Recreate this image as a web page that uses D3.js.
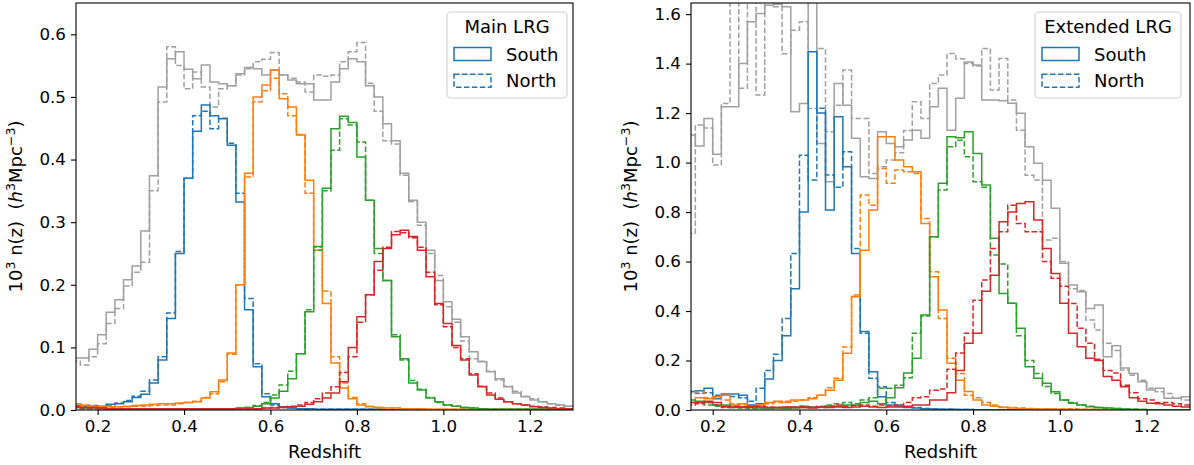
<!DOCTYPE html>
<html><head><meta charset="utf-8">
<script src="https://cdn.jsdelivr.net/npm/d3@7"></script>
<style>
body{margin:0;background:#fff;}
svg text{font-family:"DejaVu Sans",sans-serif;fill:#000;}
</style></head>
<body><svg id="c" width="1194" height="465"></svg>
<script>
// ---------- DATA ----------
const binEdges = [0.14,0.16,0.18,0.20,0.22,0.24,0.26,0.28,0.30,0.32,0.34,0.36,0.38,0.40,0.42,0.44,0.46,0.48,0.50,0.52,
0.54,0.56,0.58,0.60,0.62,0.64,0.66,0.68,0.70,0.72,0.74,0.76,0.78,0.80,0.82,0.84,0.86,0.88,0.90,0.92,
0.94,0.96,0.98,1.00,1.02,1.04,1.06,1.08,1.10,1.12,1.14,1.16,1.18,1.20,1.22,1.24,1.26,1.28];
const binEnd = 1.30;
const xTicks = [0.2,0.4,0.6,0.8,1.0,1.2];
const yTicksMain = [0.0,0.1,0.2,0.3,0.4,0.5,0.6];
const yTicksExt = [0.0,0.2,0.4,0.6,0.8,1.0,1.2,1.4,1.6];
const legendLabels = ["South","North"];

// Main LRG (left)
const mainAllS = [0.083,0.083,0.097,0.12,0.156,0.176,0.208,0.23,0.286,0.374,0.516,0.561,0.572,0.544,0.529,0.551,0.524,0.521,0.518,0.537,
0.547,0.545,0.535,0.543,0.535,0.527,0.521,0.521,0.495,0.495,0.524,0.545,0.561,0.556,0.518,0.5,0.457,0.43,0.378,0.335,
0.3,0.255,0.207,0.173,0.145,0.117,0.093,0.077,0.061,0.05,0.037,0.027,0.021,0.016,0.013,0.01,0.008,0.006];
const mainAllN = [0.078,0.072,0.085,0.106,0.138,0.162,0.198,0.22,0.236,0.35,0.492,0.58,0.55,0.513,0.54,0.516,0.484,0.513,0.518,0.535,
0.545,0.556,0.56,0.571,0.535,0.53,0.524,0.508,0.535,0.533,0.535,0.556,0.572,0.587,0.522,0.477,0.43,0.425,0.375,0.333,
0.295,0.25,0.215,0.165,0.14,0.11,0.082,0.078,0.062,0.048,0.038,0.03,0.022,0.018,0.013,0.01,0.008,0.006];
const mainBlueS = [0.007,0.006,0.006,0.006,0.009,0.01,0.013,0.02,0.025,0.043,0.08,0.146,0.25,0.37,0.445,0.487,0.47,0.465,0.423,0.332,
0.16,0.069,0.021,0.01,0.005,0.003,0.002,0.002,0.001,0.001,0.001,0.001,0.001,0.001,0.001,0.001,0,0,0,0,
0,0,0,0,0,0,0,0,0,0,0,0,0,0,0,0,0,0];
const mainBlueN = [0.008,0.006,0.007,0.005,0.008,0.011,0.015,0.022,0.03,0.048,0.085,0.155,0.253,0.37,0.47,0.477,0.449,0.466,0.426,0.346,
0.178,0.074,0.026,0.008,0.004,0.003,0.002,0.001,0.001,0.001,0.001,0.001,0.001,0.001,0.001,0.001,0,0,0,0,
0,0,0,0,0,0,0,0,0,0,0,0,0,0,0,0,0,0];
const mainOrangeS = [0.01,0.008,0.006,0.005,0.005,0.005,0.006,0.007,0.008,0.009,0.01,0.01,0.011,0.012,0.013,0.019,0.029,0.048,0.091,0.2,
0.378,0.5,0.519,0.543,0.497,0.484,0.439,0.367,0.255,0.17,0.075,0.035,0.018,0.008,0.005,0.004,0.003,0.003,0.002,0.002,
0.002,0.001,0.001,0.001,0.001,0.001,0.001,0.001,0.001,0.001,0.001,0.001,0.001,0.001,0.001,0.001,0.001,0.001];
const mainOrangeN = [0.006,0.005,0.004,0.004,0.004,0.005,0.005,0.006,0.006,0.007,0.008,0.008,0.01,0.012,0.014,0.02,0.026,0.045,0.089,0.2,
0.372,0.492,0.51,0.53,0.505,0.47,0.44,0.346,0.26,0.19,0.085,0.043,0.02,0.01,0.006,0.004,0.003,0.003,0.002,0.001,
0.001,0.001,0.001,0.001,0.001,0.001,0.001,0.001,0.001,0.001,0.001,0.001,0.001,0.001,0.001,0.001,0.001,0.001];
const mainGreenS = [0.004,0.003,0.003,0.002,0.002,0.002,0.002,0.002,0.002,0.002,0.002,0.002,0.002,0.002,0.002,0.002,0.002,0.002,0.002,0.003,
0.004,0.006,0.01,0.019,0.03,0.05,0.09,0.157,0.261,0.354,0.449,0.469,0.459,0.404,0.335,0.258,0.207,0.117,0.082,0.043,
0.032,0.019,0.013,0.008,0.006,0.004,0.003,0.002,0.001,0.001,0.001,0.001,0.001,0.001,0.001,0.001,0.001,0.001];
const mainGreenN = [0.003,0.002,0.002,0.002,0.002,0.002,0.002,0.002,0.002,0.002,0.002,0.002,0.002,0.002,0.002,0.002,0.002,0.002,0.002,0.003,
0.004,0.007,0.012,0.024,0.04,0.062,0.09,0.16,0.255,0.35,0.415,0.465,0.455,0.428,0.335,0.25,0.207,0.12,0.08,0.047,
0.033,0.02,0.012,0.008,0.006,0.004,0.003,0.002,0.001,0.001,0.001,0.001,0.001,0.001,0.001,0.001,0.001,0.001];
const mainRedS = [0.005,0.004,0.004,0.003,0.002,0.002,0.002,0.002,0.002,0.002,0.002,0.002,0.002,0.002,0.002,0.002,0.002,0.002,0.002,0.002,
0.002,0.002,0.003,0.003,0.004,0.005,0.006,0.009,0.013,0.019,0.027,0.045,0.1,0.149,0.184,0.237,0.258,0.28,0.287,0.277,
0.255,0.213,0.17,0.138,0.103,0.08,0.056,0.037,0.024,0.017,0.013,0.01,0.008,0.005,0.004,0.003,0.002,0.002];
const mainRedN = [0.004,0.003,0.003,0.003,0.002,0.002,0.002,0.002,0.002,0.002,0.002,0.002,0.002,0.002,0.002,0.002,0.002,0.002,0.002,0.002,
0.002,0.002,0.003,0.004,0.005,0.006,0.008,0.012,0.018,0.027,0.037,0.06,0.085,0.14,0.184,0.223,0.26,0.285,0.283,0.275,
0.26,0.22,0.168,0.133,0.1,0.082,0.058,0.038,0.027,0.019,0.013,0.01,0.008,0.006,0.005,0.004,0.003,0.002];

// Extended LRG (right)
const extAllS = [1.111,1.067,1.178,1.034,1.226,1.226,1.4,1.569,1.603,1.636,1.64,1.63,1.205,1.239,1.8,1.077,0.923,1.32,1.232,1.098,
0.943,0.936,1.125,1.077,1.064,1.091,1.131,1.098,1.226,1.3,1.131,1.26,1.407,1.394,1.253,1.253,1.25,1.24,1.199,1.064,
0.997,0.929,0.815,0.593,0.505,0.478,0.41,0.424,0.215,0.26,0.17,0.148,0.114,0.081,0.088,0.047,0.047,0.054];
const extAllN = [0.714,1.152,1.14,0.99,1.239,1.8,1.3,1.8,1.273,1.8,1.63,1.44,1.535,1.569,1.219,1.461,1.125,1.232,1.374,1.178,
1.178,0.956,0.983,1.01,1.04,1.13,1.246,1.178,1.32,1.354,1.441,1.42,1.4,1.39,1.461,1.293,1.421,1.253,1.131,0.949,
0.93,0.687,0.694,0.6,0.49,0.483,0.364,0.323,0.27,0.24,0.162,0.14,0.12,0.088,0.074,0.067,0.047,0.04];
const extBlueS = [0.075,0.078,0.088,0.045,0.065,0.065,0.06,0.02,0.025,0.125,0.2,0.3,0.49,0.8,1.448,1.2,0.808,1.185,0.983,0.633,
0.317,0.155,0.054,0.02,0.015,0.01,0.008,0.005,0.004,0.003,0.003,0.002,0.002,0.001,0.001,0.001,0.001,0.001,0,0,
0,0,0,0,0,0,0,0,0,0,0,0,0,0,0,0,0,0];
const extBlueN = [0.07,0.068,0.07,0.06,0.06,0.055,0.05,0.035,0.088,0.16,0.225,0.37,0.633,1.03,0.93,1.22,0.95,0.9,1.044,0.653,
0.31,0.128,0.094,0.03,0.02,0.012,0.01,0.006,0.004,0.003,0.003,0.002,0.002,0.001,0.001,0.001,0.001,0.001,0,0,
0,0,0,0,0,0,0,0,0,0,0,0,0,0,0,0,0,0];
const extOrangeS = [0.03,0.05,0.045,0.055,0.06,0.02,0.025,0.015,0.02,0.03,0.035,0.03,0.04,0.04,0.045,0.06,0.08,0.12,0.229,0.458,
0.646,0.808,1.104,1.104,1.01,0.983,0.963,0.754,0.539,0.404,0.189,0.12,0.075,0.04,0.02,0.015,0.01,0.008,0.006,0.005,
0.004,0.004,0.003,0.003,0.002,0.002,0.002,0.002,0.001,0.001,0.001,0.001,0.001,0.001,0.001,0.001,0.001,0.001];
const extOrangeN = [0.07,0.075,0.05,0.05,0.04,0.025,0.02,0.015,0.02,0.025,0.03,0.035,0.035,0.04,0.05,0.06,0.09,0.128,0.255,0.465,
0.869,0.828,0.976,0.916,0.97,0.963,0.956,0.774,0.559,0.37,0.209,0.148,0.06,0.05,0.03,0.02,0.012,0.01,0.008,0.006,
0.005,0.005,0.004,0.004,0.005,0.003,0.003,0.002,0.002,0.002,0.001,0.001,0.001,0.001,0.001,0.001,0.001,0.001];
const extGreenS = [0.04,0.035,0.03,0.02,0.02,0.01,0.012,0.01,0.008,0.006,0.008,0.006,0.008,0.01,0.01,0.012,0.015,0.015,0.02,0.02,
0.03,0.035,0.025,0.05,0.09,0.15,0.209,0.384,0.7,0.916,1.104,1.1,1.125,1.037,0.909,0.694,0.471,0.431,0.33,0.175,
0.128,0.108,0.074,0.04,0.027,0.02,0.013,0.01,0.008,0.006,0.004,0.003,0.002,0.001,0.001,0.001,0.001,0.001];
const extGreenN = [0.03,0.03,0.02,0.015,0.012,0.01,0.008,0.006,0.006,0.008,0.01,0.01,0.012,0.015,0.012,0.015,0.02,0.025,0.03,0.025,
0.04,0.05,0.088,0.088,0.1,0.13,0.31,0.38,0.7,0.889,1.064,1.09,1.024,0.923,0.9,0.626,0.59,0.431,0.3,0.2,
0.148,0.095,0.067,0.04,0.03,0.02,0.015,0.01,0.008,0.006,0.004,0.003,0.002,0.001,0.001,0.001,0.001,0.001];
const extRedS = [0.03,0.03,0.035,0.03,0.015,0.012,0.012,0.015,0.012,0.01,0.01,0.012,0.01,0.01,0.008,0.012,0.01,0.012,0.01,0.012,
0.015,0.012,0.01,0.012,0.012,0.015,0.02,0.02,0.04,0.04,0.07,0.16,0.27,0.31,0.48,0.545,0.761,0.8,0.835,0.842,
0.768,0.653,0.552,0.431,0.31,0.256,0.209,0.2,0.135,0.12,0.094,0.05,0.035,0.027,0.025,0.02,0.015,0.012];
const extRedN = [0.02,0.025,0.03,0.02,0.01,0.015,0.01,0.01,0.015,0.012,0.01,0.01,0.012,0.015,0.012,0.01,0.015,0.02,0.015,0.018,
0.02,0.015,0.02,0.015,0.02,0.03,0.05,0.054,0.08,0.085,0.165,0.23,0.31,0.444,0.525,0.653,0.72,0.828,0.754,0.72,
0.72,0.6,0.532,0.5,0.43,0.33,0.27,0.205,0.16,0.15,0.1,0.07,0.045,0.04,0.03,0.03,0.025,0.02];

const colors = {all:"#a0a0a0", blue:"#1f77b4", orange:"#ff7f0e", green:"#2ca02c", red:"#d62728"};

// ---------- DRAW ----------
const svg = d3.select("#c");
const panels = [
  {title:"Main LRG", left:76, right:573, yMax:0.65, yTicks:yTicksMain, yFmt:d3.format(".1f"), labelX:22,
   legend:{x0:447,x1:567}, series:[
    ["all",mainAllS,mainAllN],["blue",mainBlueS,mainBlueN],["orange",mainOrangeS,mainOrangeN],
    ["green",mainGreenS,mainGreenN],["red",mainRedS,mainRedN]]},
  {title:"Extended LRG", left:691, right:1190, yMax:1.645, yTicks:yTicksExt, yFmt:d3.format(".1f"), labelX:637,
   legend:{x0:1035,x1:1181}, series:[
    ["all",extAllS,extAllN],["blue",extBlueS,extBlueN],["orange",extOrangeS,extOrangeN],
    ["green",extGreenS,extGreenN],["red",extRedS,extRedN]]}
];
const yTop = 3, yBottom = 410;
const dash = "5.55,2.4";

panels.forEach((p,pi)=>{
  const x = d3.scaleLinear().domain([0.15,1.30]).range([p.left,p.right]);
  const y = d3.scaleLinear().domain([0,p.yMax]).range([yBottom,yTop]);
  const g = svg.append("g");
  const clipId = "clip"+pi;
  svg.append("clipPath").attr("id",clipId).append("rect")
    .attr("x",p.left).attr("y",yTop).attr("width",p.right-p.left).attr("height",yBottom-yTop);

  const line = d3.line().x(d=>x(d[0])).y(d=>y(d[1])).curve(d3.curveStepAfter);
  const plot = g.append("g").attr("clip-path",`url(#${clipId})`);
  p.series.forEach(([key,S,N])=>{
    [S,N].forEach((vals,k)=>{
      const pts = binEdges.map((e,i)=>[e,vals[i]]);
      pts.push([binEnd, vals[vals.length-1]]);
      plot.append("path").attr("d",line(pts)).attr("fill","none")
        .attr("stroke",colors[key]).attr("stroke-width",1.5)
        .attr("stroke-dasharray",k===1?dash:null)
        .attr("stroke-linejoin","miter").attr("stroke-linecap","butt");
    });
  });

  const xAx = g.append("g").attr("transform",`translate(0,${yBottom})`)
    .call(d3.axisBottom(x).tickValues(xTicks).tickFormat(d3.format(".1f")).tickSize(5).tickPadding(5));
  const yAx = g.append("g").attr("transform",`translate(${p.left},0)`)
    .call(d3.axisLeft(y).tickValues(p.yTicks).tickFormat(p.yFmt).tickSize(5).tickPadding(5));
  [xAx,yAx].forEach(a=>{
    a.select(".domain").remove();
    a.selectAll("line").attr("stroke","#000").attr("stroke-width",1.1);
    a.selectAll("text").attr("font-size","16.7px").attr("font-family","DejaVu Sans").attr("fill","#000");
  });
  g.append("rect").attr("x",p.left).attr("y",yTop).attr("width",p.right-p.left).attr("height",yBottom-yTop)
    .attr("fill","none").attr("stroke","#000").attr("stroke-width",1.1);

  g.append("text").attr("x",(p.left+p.right)/2).attr("y",458).attr("text-anchor","middle")
    .attr("font-size","18px").text("Redshift");
  const yl = g.append("text").attr("transform",`translate(${p.labelX},${(yTop+yBottom)/2}) rotate(-90)`)
    .attr("text-anchor","middle").attr("font-size","18px");
  yl.append("tspan").text("10");
  yl.append("tspan").attr("font-size","12.6px").attr("dy",-7).text("3");
  yl.append("tspan").attr("dy",7).text(" n(z)\u00a0\u00a0(");
  yl.append("tspan").attr("font-style","italic").text("h");
  yl.append("tspan").attr("font-size","12.6px").attr("dy",-7).text("3");
  yl.append("tspan").attr("dy",7).text("Mpc");
  yl.append("tspan").attr("font-size","12.6px").attr("dy",-7).text("\u22123");
  yl.append("tspan").attr("dy",7).text(")");

  const L = p.legend;
  const lg = g.append("g");
  lg.append("rect").attr("x",L.x0).attr("y",12).attr("width",L.x1-L.x0).attr("height",86)
    .attr("rx",4).attr("fill","#fff").attr("fill-opacity",0.8).attr("stroke","#d0d0d0").attr("stroke-width",1.1);
  lg.append("text").attr("x",(L.x0+L.x1)/2).attr("y",33).attr("text-anchor","middle")
    .attr("font-size","18px").text(p.title);
  legendLabels.forEach((lab,k)=>{
    const cy = 54 + k*26.7;
    const px0 = L.x0 + 7;
    lg.append("rect").attr("x",px0).attr("y",cy-6.5).attr("width",37).attr("height",13)
      .attr("fill","none").attr("stroke",colors.blue).attr("stroke-width",1.5)
      .attr("stroke-dasharray",k===1?dash:null);
    lg.append("text").attr("x",px0+52).attr("y",cy+6.5).attr("font-size","18px").text(lab);
  });
});
</script></body></html>
